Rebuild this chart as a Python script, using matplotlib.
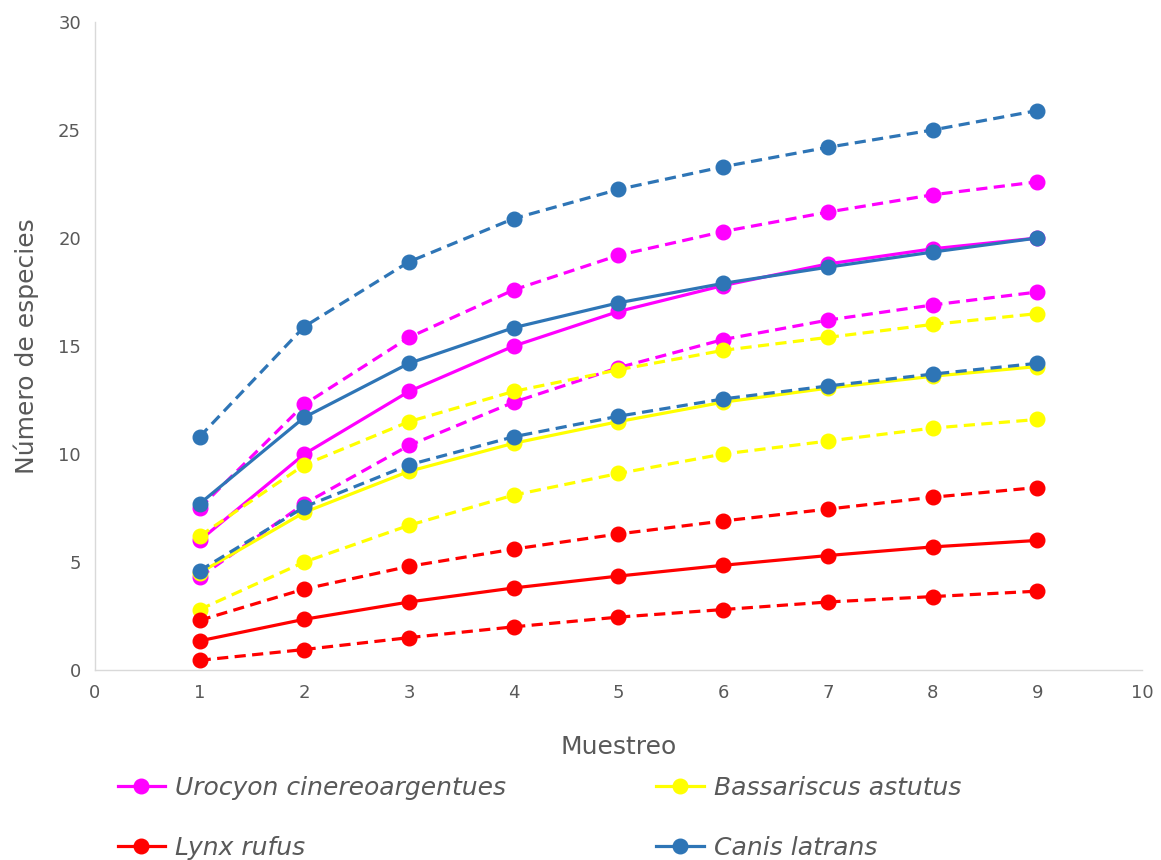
import matplotlib.pyplot as plt

muestreo = [1, 2, 3, 4, 5, 6, 7, 8, 9]

# observed curves (solid) and their upper / lower bounds (dashed)
urocyon = [6.0, 10.0, 12.9, 15.0, 16.6, 17.8, 18.8, 19.5, 20.0]
urocyon_hi = [7.5, 12.3, 15.4, 17.6, 19.2, 20.3, 21.2, 22.0, 22.6]
urocyon_lo = [4.3, 7.7, 10.4, 12.4, 14.0, 15.3, 16.2, 16.9, 17.5]

bassariscus = [4.5, 7.3, 9.2, 10.5, 11.5, 12.4, 13.05, 13.6, 14.05]
bassariscus_hi = [6.2, 9.5, 11.5, 12.9, 13.9, 14.8, 15.4, 16.0, 16.5]
bassariscus_lo = [2.8, 5.0, 6.7, 8.1, 9.1, 10.0, 10.6, 11.2, 11.6]

lynx = [1.35, 2.35, 3.15, 3.8, 4.35, 4.85, 5.3, 5.7, 6.0]
lynx_hi = [2.3, 3.75, 4.8, 5.6, 6.3, 6.9, 7.45, 8.0, 8.45]
lynx_lo = [0.45, 0.95, 1.5, 2.0, 2.45, 2.8, 3.15, 3.4, 3.65]

canis = [7.7, 11.7, 14.2, 15.85, 17.0, 17.9, 18.65, 19.35, 20.0]
canis_hi = [10.8, 15.9, 18.9, 20.9, 22.25, 23.3, 24.2, 25.0, 25.9]
canis_lo = [4.6, 7.55, 9.5, 10.8, 11.75, 12.55, 13.15, 13.7, 14.2]

names = ["Urocyon cinereoargentues", "Bassariscus astutus", "Lynx rufus", "Canis latrans"]
COLORS = ["#FF00FF", "#FFFF00", "#FF0000", "#2E75B6"]

series = [
    (urocyon, urocyon_hi, urocyon_lo),
    (bassariscus, bassariscus_hi, bassariscus_lo),
    (lynx, lynx_hi, lynx_lo),
    (canis, canis_hi, canis_lo),
]

GRAY = "#595959"

fig = plt.figure(figsize=(11.61, 8.6), dpi=100)
ax = fig.add_axes([0.0818, 0.2209, 0.9018, 0.7535])

handles = []
for name, color, (mid, hi, lo) in zip(names, COLORS, series):
    for vals in (hi, lo):
        ax.plot(muestreo, vals, linestyle=(0, (3.5, 2)), color=color, lw=2.3,
                marker="o", markersize=10.5)
    h, = ax.plot(muestreo, mid, '-', color=color, lw=2.3, marker="o",
                 markersize=10.5, label=name)
    handles.append(h)

ax.set_xlim(0, 10)
ax.set_ylim(0, 30)
ax.set_xticks(range(0, 11))
ax.set_yticks(range(0, 31, 5))
ax.tick_params(length=0, labelsize=13, colors=GRAY, pad=10)

for side in ("top", "right"):
    ax.spines[side].set_visible(False)
for side in ("left", "bottom"):
    ax.spines[side].set_color("#D9D9D9")
    ax.spines[side].set_linewidth(1.0)

ax.set_xlabel("Muestreo", fontsize=18, color=GRAY, labelpad=24)
ax.set_ylabel("Número de especies", fontsize=18, color=GRAY, labelpad=14)

# legend is row-major in the picture, matplotlib fills columns first
order = [0, 2, 1, 3]
leg = fig.legend([handles[i] for i in order], [names[i] for i in order],
                 ncol=2, loc="lower left", bbox_to_anchor=(0.082, -0.026),
                 frameon=False, handlelength=1.9, handletextpad=0.4,
                 columnspacing=6.0, labelspacing=1.45,
                 prop={"size": 18, "style": "italic"})
for t in leg.get_texts():
    t.set_color(GRAY)

plt.savefig("out.png", dpi=100)
